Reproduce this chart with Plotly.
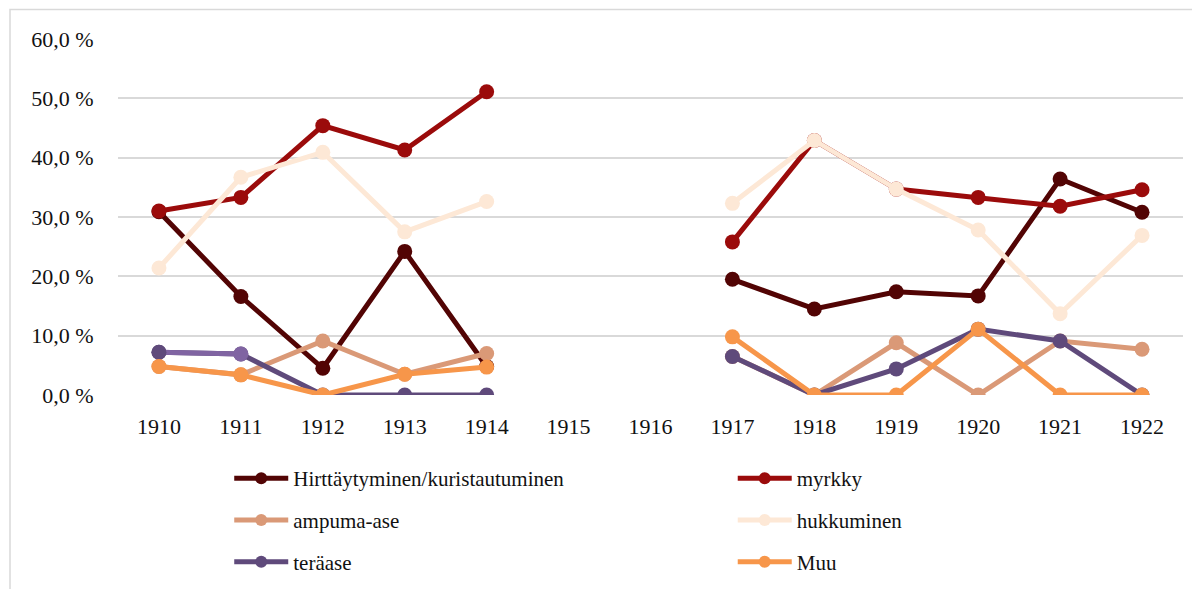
import plotly.graph_objects as go

years = ["1910", "1911", "1912", "1913", "1914", "1915", "1916",
         "1917", "1918", "1919", "1920", "1921", "1922"]

hirttaytyminen = [30.9, 16.6, 4.5, 24.2, 4.8, None, None, 19.5, 14.5, 17.4, 16.7, 36.4, 30.8]
myrkky = [31.0, 33.3, 45.4, 41.3, 51.1, None, None, 25.8, 42.9, 34.7, 33.3, 31.8, 34.6]
ampuma_ase = [4.8, 3.4, 9.1, 3.5, 7.0, None, None, 6.5, 0.0, 8.8, 0.0, 9.1, 7.7]
hukkuminen = [21.4, 36.7, 40.9, 27.5, 32.6, None, None, 32.3, 42.9, 34.7, 27.8, 13.7, 26.9]
teraase = [7.2, 6.9, 0.0, 0.0, 0.0, None, None, 6.5, 0.0, 4.4, 11.1, 9.1, 0.0]
muu = [4.8, 3.4, 0.0, 3.5, 4.7, None, None, 9.8, 0.0, 0.0, 11.1, 0.0, 0.0]

names = ["Hirttäytyminen/kuristautuminen", "myrkky", "ampuma-ase",
         "hukkuminen", "teräase", "Muu"]
series = [hirttaytyminen, myrkky, ampuma_ase, hukkuminen, teraase, muu]
colors = ["#520404", "#9B0B0B", "#DA9977", "#FDE8D6", "#5F4A7B", "#F7964A"]
legend_ids = ["legend", "legend2", "legend", "legend2", "legend", "legend2"]

y_ticks = [0, 10, 20, 30, 40, 50, 60]
y_tick_labels = ["0,0 %", "10,0 %", "20,0 %", "30,0 %", "40,0 %", "50,0 %", "60,0 %"]

FONT = "Liberation Serif"

# page body adds an 8px margin, so the figure is drawn 8px smaller / shifted
W, H = 1192, 581
ML, MR, MT, MB = 110, 17, 31, 194
PW = W - ML - MR
PH = H - MT - MB

fig = go.Figure()
for name, vals, col, lg in zip(names, series, colors, legend_ids):
    fig.add_trace(go.Scatter(
        x=years, y=vals, name=name, mode="lines+markers",
        line=dict(color=col, width=5),
        marker=dict(color=col, size=15),
        legend=lg, legendgroup=name,
        connectgaps=False,
        hoverinfo="skip",
    ))
    if name == "teräase":
        # lighter first segment as in the reference
        fig.add_trace(go.Scatter(
            x=years[:2], y=vals[:2], mode="lines+markers",
            line=dict(color="#8064A2", width=5),
            marker=dict(color=["#5F4A7B", "#8064A2"], size=15),
            showlegend=False, hoverinfo="skip",
        ))

legend_common = dict(
    xref="container", yref="container",
    y=1 - 450 / H, xanchor="left", yanchor="top",
    orientation="v", itemwidth=54, tracegroupgap=11.5,
    itemsizing="constant",
    bgcolor="rgba(0,0,0,0)",
    font=dict(family=FONT, size=21, color="#111111"),
)

fig.update_layout(
    width=W, height=H,
    margin=dict(l=ML, r=MR, t=MT, b=MB, autoexpand=False),
    paper_bgcolor="white", plot_bgcolor="white",
    font=dict(family=FONT, size=22, color="#111111"),
    xaxis=dict(
        type="category", categoryorder="array", categoryarray=years,
        range=[-0.5, len(years) - 0.5],
        showgrid=False, zeroline=False, showline=False,
        ticks="outside", ticklen=12, tickcolor="rgba(0,0,0,0)",
        tickfont=dict(family=FONT, size=22, color="#111111"),
        tickangle=0, automargin=False,
        fixedrange=True,
    ),
    yaxis=dict(
        range=[0, 60], tickvals=y_ticks, ticktext=y_tick_labels,
        showgrid=True, gridcolor="#D9D9D9", gridwidth=1.5,
        zeroline=False, showline=False,
        ticks="outside", ticklen=19, tickcolor="rgba(0,0,0,0)",
        tickfont=dict(family=FONT, size=22, color="#111111"),
        automargin=False,
        fixedrange=True,
    ),
    legend=dict(x=0.1856, **legend_common),
    legend2=dict(x=0.6080, **legend_common),
    shapes=[dict(
        type="rect", xref="paper", yref="paper",
        x0=(10 - 118) / PW, x1=(1205 - 118) / PW,
        y0=(395 - 600) / PH, y1=(395 - 9.5) / PH,
        line=dict(color="#D9D9D9", width=1.5), fillcolor="rgba(0,0,0,0)",
        layer="below",
    )],
)

fig.write_html("out.html")
